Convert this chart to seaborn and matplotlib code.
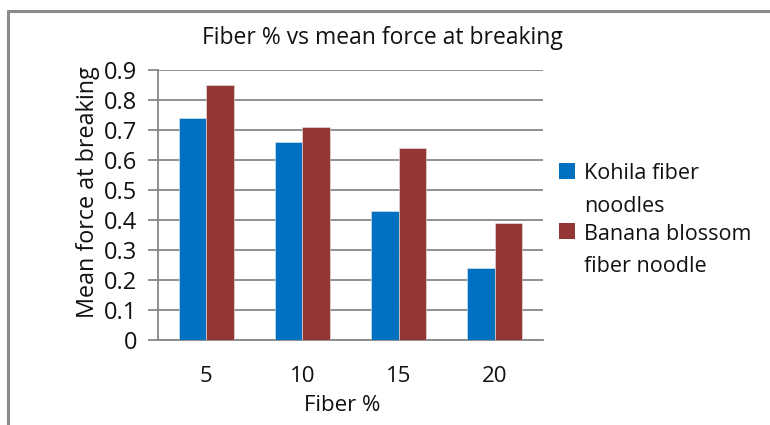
import matplotlib
matplotlib.use("Agg")
import matplotlib.pyplot as plt
from matplotlib.lines import Line2D
from matplotlib.patches import Rectangle
from matplotlib.legend_handler import HandlerPatch
import seaborn as sns
import pandas as pd
import numpy as np

fiber_pct = ["5", "10", "15", "20"]
kohila = [0.74, 0.66, 0.43, 0.24]
banana = [0.85, 0.71, 0.64, 0.39]
series_names = ["Kohila fiber\nnoodles", "Banana blossom\nfiber noodle"]
yticks = [0, 0.1, 0.2, 0.3, 0.4, 0.5, 0.6, 0.7, 0.8, 0.9]

df = pd.DataFrame({
    "Fiber %": fiber_pct * 2,
    "force": kohila + banana,
    "series": [series_names[0]] * 4 + [series_names[1]] * 4,
})

sns.set_theme(style="white")
plt.rcParams["font.family"] = ["Open Sans", "DejaVu Sans"]

grid_c = "#878787"
txt_c = "#111111"
leg_fs = 15.5


class TopLineSquare(HandlerPatch):
    """Legend swatch placed beside the first line of a wrapped label."""

    def create_artists(self, legend, orig_handle, xdescent, ydescent,
                       width, height, fontsize, trans):
        p = Rectangle((-xdescent, -ydescent + 0.92 * fontsize), width, height,
                      facecolor=orig_handle.get_facecolor(), edgecolor="none",
                      transform=trans)
        return [p]


fig = plt.figure(figsize=(7.7, 4.25), dpi=100)
ax = fig.add_axes([158 / 770, 1 - 340 / 425, 385 / 770, 270 / 425])

sns.barplot(data=df, x="Fiber %", y="force", hue="series",
            palette=["#0070C0", "#943634"], width=0.571, saturation=1,
            edgecolor="#e8e8e8", linewidth=0.4, ax=ax, zorder=3)

ax.set_xlim(-0.5, 3.5)
ax.set_ylim(0, 0.9)
ax.set_yticks(yticks)
ax.set_yticklabels([f"{v:g}" for v in yticks], fontsize=17, color=txt_c)
ax.yaxis.grid(True, color=grid_c, linewidth=1.3, zorder=0)
ax.set_axisbelow(True)

ax.set_xticks(range(4))
ax.set_xticklabels(fiber_pct, fontsize=16, color=txt_c)
ax.set_xticks(np.arange(-0.5, 4, 1), minor=True)
ax.tick_params(axis="x", which="major", length=0, pad=19)
ax.tick_params(axis="x", which="minor", length=8, width=1.3, color=grid_c, direction="out")
ax.tick_params(axis="y", length=7, width=1.3, color=grid_c, direction="out", left=True, pad=8)

for s in ["top", "right"]:
    ax.spines[s].set_visible(False)
for s in ["left", "bottom"]:
    ax.spines[s].set_color(grid_c)
    ax.spines[s].set_linewidth(1.3)

ax.set_xlabel("Fiber %", fontsize=16, color=txt_c)
ax.xaxis.set_label_coords(0.478, -0.205)
ax.set_ylabel("Mean force at breaking", fontsize=16.8, color=txt_c)
ax.yaxis.set_label_coords(-0.150, 0.548)
fig.text(382 / 770, 1 - 38 / 425, "Fiber % vs mean force at breaking",
         fontsize=16.5, color=txt_c, ha="center", va="center")

handles, labels = ax.get_legend_handles_labels()
leg = ax.legend(handles, labels, loc="center left", bbox_to_anchor=(0.99, 0.443),
                frameon=False, fontsize=leg_fs, handlelength=0.78, handleheight=0.78,
                handletextpad=0.4, labelspacing=0.33,
                handler_map={type(handles[0]): TopLineSquare()})
for t in leg.get_texts():
    t.set_linespacing(1.72)
    t.set_color(txt_c)

# outer chart frame (left and top edges)
fig.add_artist(Line2D([8 / 770, 8 / 770], [0, 1 - 11 / 425], color="#8a8a8a",
                      linewidth=2.2, transform=fig.transFigure))
fig.add_artist(Line2D([8 / 770, 1], [1 - 11 / 425, 1 - 11 / 425], color="#8a8a8a",
                      linewidth=2.2, transform=fig.transFigure))

fig.savefig("out.png", dpi=100)
